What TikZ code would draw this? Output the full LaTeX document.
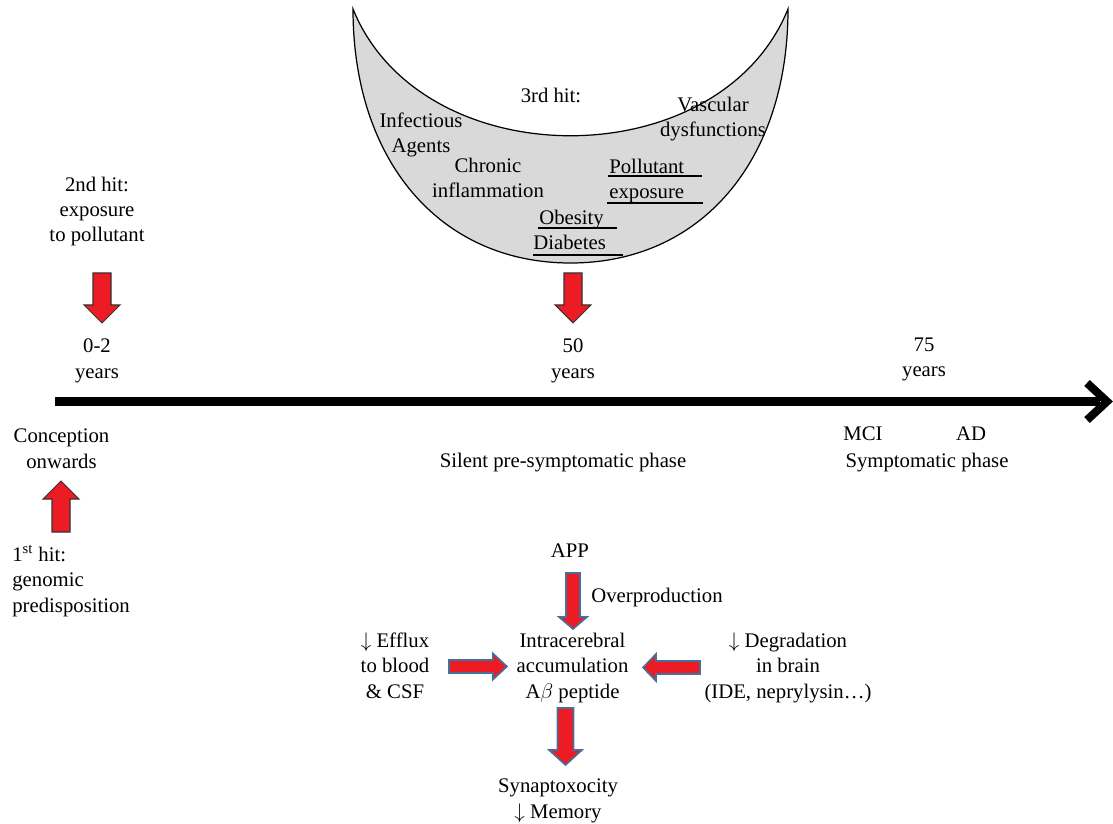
\documentclass[tikz,border=0pt]{standalone}
\usepackage{fontspec}
\setmainfont{Liberation Serif}
\usetikzlibrary{positioning}

\definecolor{arrowred}{RGB}{237,28,36}
\definecolor{arrowblue}{RGB}{65,113,156}
\definecolor{moongray}{RGB}{217,217,217}

\tikzset{
  lbl/.style={align=center, inner sep=0pt, anchor=base},
  hitarrow/.style={fill=arrowred, draw=black!80, line width=0.6pt},
  flowarrow/.style={fill=arrowred, draw=arrowblue, line width=0.9pt},
  uline/.style={line width=1.7pt},
  % block arrow along +x: shaft half width / head half width / length / head length
  pics/blockarrow/.style args={#1/#2/#3/#4}{code={
    \draw[pic actions] (0,-#1) -- (#3-#4,-#1) -- (#3-#4,-#2) -- (#3,0)
      -- (#3-#4,#2) -- (#3-#4,#1) -- (0,#1) -- cycle;
  }},
}

\begin{document}
\begin{tikzpicture}[x=0.02cm, y=-0.02cm, font=\fontsize{11.8}{14.5}\selectfont]

  \path[use as bounding box] (0,0) rectangle (1113,824);

  % third hit: the crescent
  \draw[fill=moongray, line width=0.7pt] (353,9) .. controls (353,161) and (440,263) .. (570.5,263)
    .. controls (701,263) and (788,161) .. (788,9)
    .. controls (719.5,178) and (421.5,178) .. cycle;

  % (base = baseline of the last line)
  \node[lbl] (hit3) at (551,103) {3rd hit:};
  \node[lbl] (infect) at (421,153) {Infectious\\Agents};
  \node[lbl] (chronic) at (488,198) {Chronic\\inflammation};
  \node[lbl] (vascular) at (713,137) {Vascular\\dysfunctions};
  \node[lbl, anchor=base west, align=left] (pollutant) at (609,199) {Pollutant\\exposure};
  \node[lbl, anchor=base west, align=left] (obesity) at (539,225) {Obesity};
  \node[lbl, anchor=base west, align=left] (diabetes) at (533,250) {Diabetes};
  \draw[uline] (608,176) -- (702,176);
  \draw[uline] (607,203) -- (703,203);
  \draw[uline] (538,228) -- (617,228);
  \draw[uline] (533,255) -- (623,255);

  % timeline
  \coordinate (birth) at (55,401.5);
  \coordinate (future) at (1100,401.5);
  \draw[line width=5.1pt] (birth) -- (future);
  \draw[line width=4.6pt, miter limit=10] (1087,383) -- (1107,401.5) -- (1087,420);

  \node[lbl] (hit2) at (97,242) {2nd hit:\\exposure\\to pollutant};
  \pic[hitarrow, rotate=-90] at (102,273) {blockarrow=9/18/50/18};
  \pic[hitarrow, rotate=-90] at (573,273) {blockarrow=9/18/50/18};

  \node[lbl] (age0) at (97,378) {0-2\\years};
  \node[lbl] (age50) at (573,378) {50\\years};
  \node[lbl] (age75) at (924,377) {75\\years};

  \node[lbl] (conception) at (61.5,468) {Conception\\onwards};
  \pic[hitarrow, rotate=90] at (61,532) {blockarrow=9/18/51/18};
  \node[lbl, anchor=base west, align=left] (hit1) at (12,612)
    {1\textsuperscript{st} hit:\\genomic\\predisposition};

  \node[lbl] (silent) at (563,467) {Silent pre-symptomatic phase};
  \node[lbl] (mci) at (863,440) {MCI};
  \node[lbl] (ad) at (971,440) {AD};
  \node[lbl] (sympt) at (927,467) {Symptomatic phase};

  % amyloid cascade
  \node[lbl] (app) at (570,557) {APP};
  \pic[flowarrow, rotate=-90] at (573,573) {blockarrow=7/14/56/12};
  \node[lbl, anchor=base west] (overprod) at (591,602) {Overproduction};

  \node[lbl] (accum) at (572.5,698) {Intracerebral\\accumulation\\A$\beta$ peptide};
  \node[lbl] (efflux) at (395,698) {$\downarrow$ Efflux\\to blood\\\& CSF};
  \node[lbl] (degrad) at (788,698) {$\downarrow$ Degradation\\in brain\\(IDE, neprylysin…)};
  \pic[flowarrow] at (449,666.5) {blockarrow=6.5/13/58/14};
  \pic[flowarrow, rotate=180] at (700,667.5) {blockarrow=6.5/13.5/57/13};

  \pic[flowarrow, rotate=-90] at (565.5,708) {blockarrow=8/16.5/57/15};
  \node[lbl] (synapse) at (558,818) {Synaptoxocity\\$\downarrow$ Memory};

\end{tikzpicture}
\end{document}
